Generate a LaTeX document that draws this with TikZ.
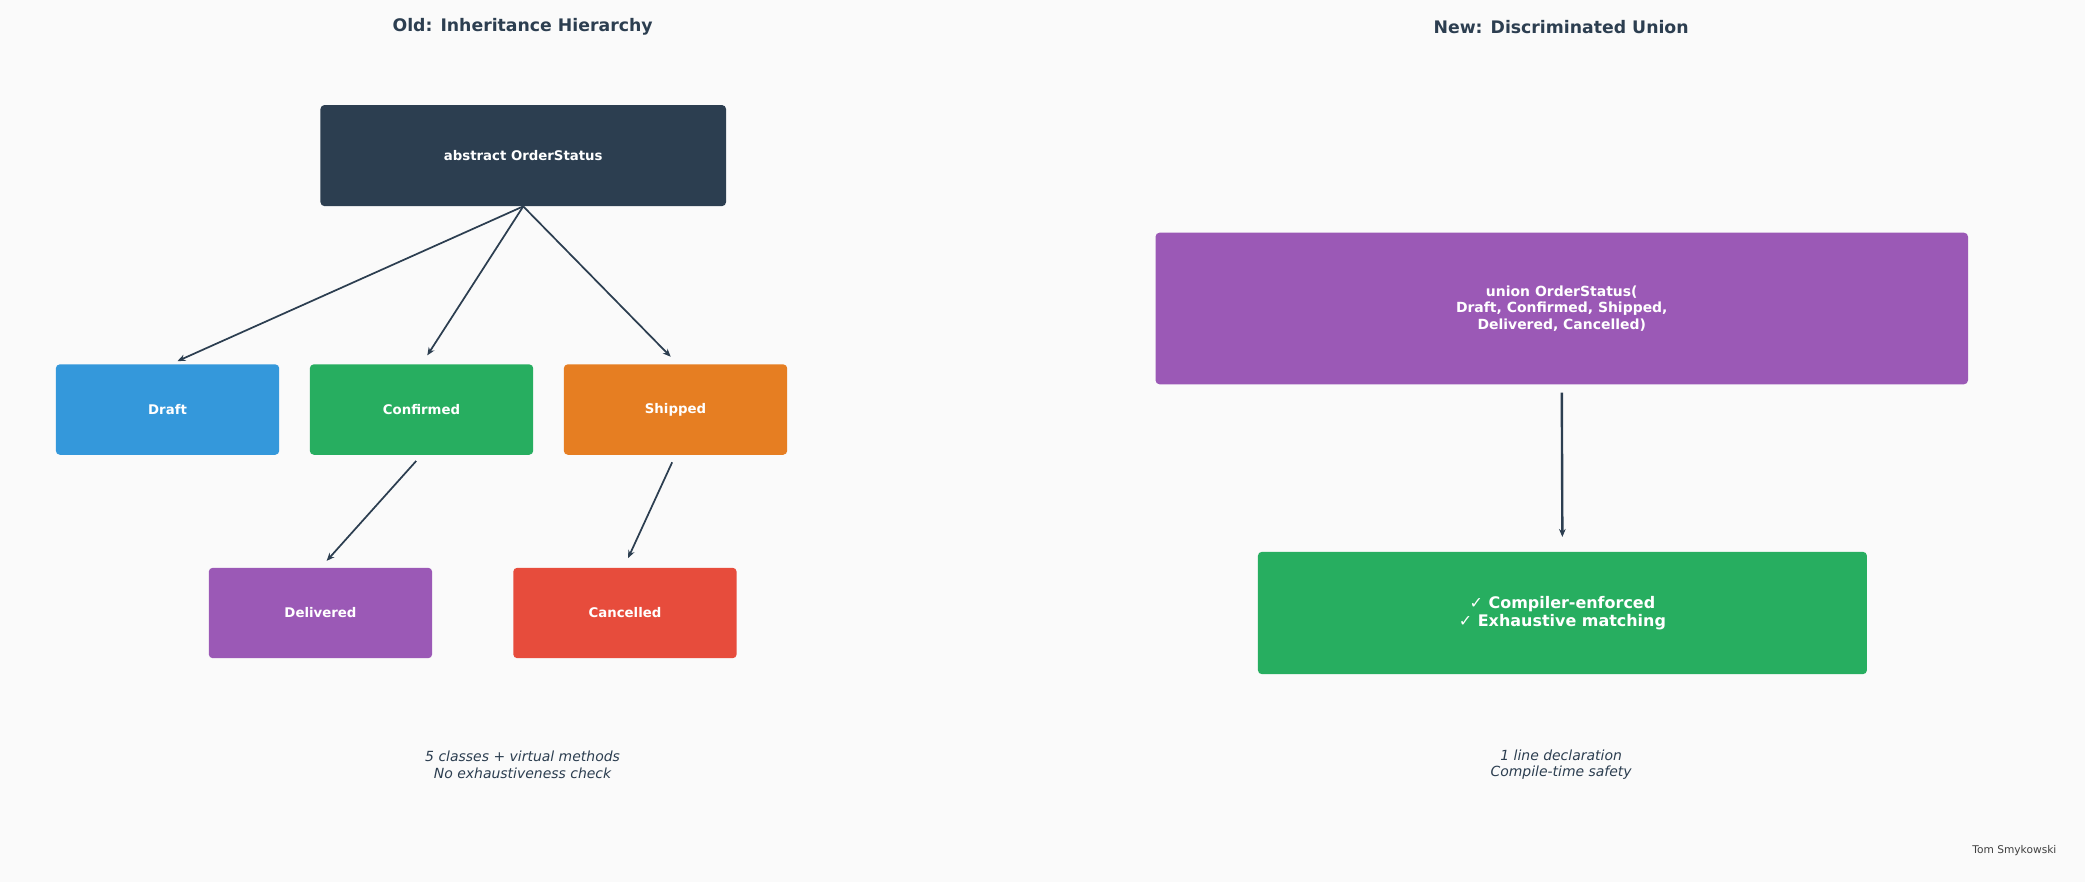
\documentclass[tikz,border=0pt]{standalone}
\usepackage{fontspec}
\setmainfont{DejaVu Sans}
\usetikzlibrary{arrows.meta}
\definecolor{dk}{HTML}{2C3E50}
\definecolor{cblue}{HTML}{3498DB}
\definecolor{cgreen}{HTML}{27AE60}
\definecolor{corange}{HTML}{E67E22}
\definecolor{cpurple}{HTML}{9B59B6}
\definecolor{cred}{HTML}{E74C3C}
\definecolor{bg}{HTML}{FAFAFA}
\tikzset{
  box/.style={rounded corners=3pt, text=white, font=\bfseries\fontsize{10}{12}\selectfont, align=center, inner sep=0pt},
  arr/.style={draw=dk, line width=1.3pt, -{Stealth[length=6pt,width=5pt]}},
  ttl/.style={text=dk, font=\bfseries\fontsize{13}{15}\selectfont},
  captxt/.style={text=dk, font=\itshape\fontsize{10.5}{12.5}\selectfont, align=center}
}
\begin{document}
\begin{tikzpicture}[x=1pt,y=-1pt]
\fill[bg] (0,0) rectangle (1568,663);
\useasboundingbox (0,0) rectangle (1568,663);
\node[ttl] (t1) at (393,20) {Old: Inheritance Hierarchy};
\node[ttl] (t2) at (1174,20) {New: Discriminated Union};
\node[box, fill=dk, minimum width=305pt, minimum height=76pt] (abs) at (393.5,117) {abstract OrderStatus};
\node[box, fill=cblue, minimum width=168pt, minimum height=68pt] (dr) at (126,308) {Draft};
\node[box, fill=cgreen, minimum width=168pt, minimum height=68pt] (co) at (317,308) {Confirmed};
\node[box, fill=corange, minimum width=168pt, minimum height=68pt] (sh) at (508,308) {Shipped};
\node[box, fill=cpurple, minimum width=168pt, minimum height=68pt] (de) at (241,461) {Delivered};
\node[box, fill=cred, minimum width=168pt, minimum height=68pt] (ca) at (470,461) {Cancelled};
\coordinate (a1) at (128,274);
\coordinate (a2) at (317,274);
\coordinate (a3) at (510,274);
\coordinate (a4) at (241,427);
\coordinate (a5) at (469,427);
\draw[arr, shorten >=6pt] (abs.south) -- (a1);
\draw[arr, shorten >=8pt] (abs.south) -- (a2);
\draw[arr, shorten >=8pt] (abs.south) -- (a3);
\draw[arr, shorten <=6pt, shorten >=7pt] (co.south) -- (a4);
\draw[arr, shorten <=6pt, shorten >=8pt] (sh.south) -- (a5);
\node[box, fill=cpurple, minimum width=611pt, minimum height=114pt, font=\bfseries\fontsize{10.5}{12.5}\selectfont] (un) at (1174.5,232) {union OrderStatus(\\Draft, Confirmed, Shipped,\\Delivered, Cancelled)};
\node[box, fill=cgreen, minimum width=458pt, minimum height=92pt, font=\bfseries\fontsize{12}{14}\selectfont] (ok) at (1175,461) {✓ Compiler-enforced\\✓ Exhaustive matching};
\draw[arr, line width=1.8pt, shorten <=6pt, shorten >=11pt] (un.south) -- (ok.north);
\node[captxt] (c1) at (393,575) {5 classes + virtual methods\\No exhaustiveness check};
\node[captxt] (c2) at (1174,575) {1 line declaration\\Compile-time safety};
\node[anchor=east, text=black!75, font=\fontsize{8}{10}\selectfont] (au) at (1550,640) {Tom Smykowski};
\end{tikzpicture}
\end{document}
